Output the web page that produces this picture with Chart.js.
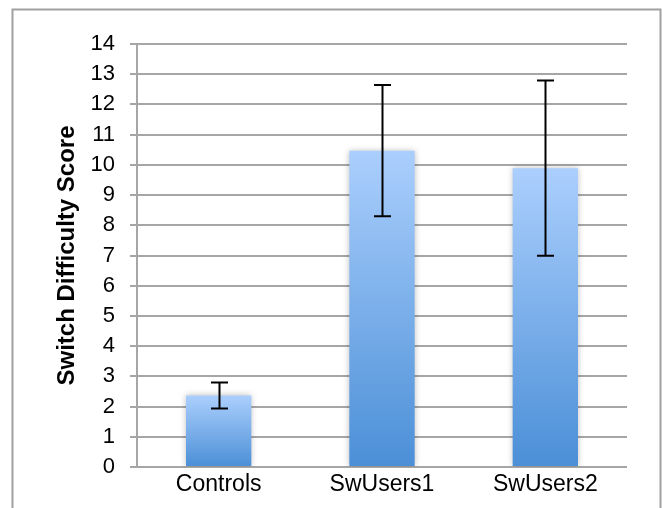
<!DOCTYPE html>
<html>
<head>
<meta charset="utf-8">
<script src="https://cdn.jsdelivr.net/npm/chart.js@4"></script>
<style>
  html, body { margin: 0; padding: 0; background: #fff; }
  #wrap { width: 662px; height: 508px; }
</style>
</head>
<body>
<div id="wrap"><canvas id="myChart" width="662" height="508"></canvas></div>
<script>
// chart values
const groups = ['Controls', 'SwUsers1', 'SwUsers2'];
const scores = [2.37, 10.47, 9.89];
const errors = [0.43, 2.17, 2.9];
const yTicks = [0, 1, 2, 3, 4, 5, 6, 7, 8, 9, 10, 11, 12, 13, 14];

const gridGray = '#a6a6a6';

// gradient per bar: light at its top, darker at the base
function barFill(c) {
  const chart = c.chart;
  const area = chart.chartArea;
  if (!area) return '#7fb0ec';
  const top = chart.scales.y.getPixelForValue(scores[c.dataIndex]);
  const g = chart.ctx.createLinearGradient(0, top, 0, area.bottom);
  g.addColorStop(0, '#abcffd');
  g.addColorStop(1, '#4b8fd7');
  return g;
}

// outer frame, bar shadow, error bars
const extras = {
  id: 'extras',
  beforeDraw(chart) {
    const ctx = chart.ctx;
    ctx.save();
    ctx.strokeStyle = '#a0a0a0';
    ctx.lineWidth = 2;
    ctx.strokeRect(12.5, 9.5, 648, 520);
    ctx.restore();
  },
  beforeDatasetsDraw(chart) {
    const ctx = chart.ctx;
    ctx.save();
    ctx.shadowColor = 'rgba(0,0,0,0.25)';
    ctx.shadowBlur = 6;
  },
  afterDatasetsDraw(chart) {
    const ctx = chart.ctx;
    ctx.restore();
    const xs = chart.scales.x, ys = chart.scales.y;
    ctx.save();
    ctx.strokeStyle = '#000';
    ctx.lineWidth = 2;
    for (let i = 0; i < scores.length; i++) {
      const x = Math.round(xs.getPixelForValue(i)) + 0.5;
      const hi = ys.getPixelForValue(scores[i] + errors[i]);
      const lo = ys.getPixelForValue(scores[i] - errors[i]);
      ctx.beginPath();
      ctx.moveTo(x, hi); ctx.lineTo(x, lo);
      ctx.moveTo(x - 8.5, hi); ctx.lineTo(x + 8.5, hi);
      ctx.moveTo(x - 8.5, lo); ctx.lineTo(x + 8.5, lo);
      ctx.stroke();
    }
    ctx.restore();
  }
};

var ctx = document.getElementById('myChart').getContext('2d');
var chart = new Chart(ctx, {
  type: 'bar',
  data: {
    labels: groups,
    datasets: [{
      label: 'Switch Difficulty Score',
      data: scores,
      backgroundColor: barFill,
      borderWidth: 0,
      categoryPercentage: 1,
      barPercentage: 0.4
    }]
  },
  options: {
    responsive: false,
    animation: false,
    devicePixelRatio: 1,
    layout: { padding: { left: 0, top: 44, right: 35, bottom: 0 } },
    plugins: {
      legend: { display: false },
      tooltip: { enabled: false }
    },
    scales: {
      x: {
        grid: { display: false, drawTicks: false },
        border: { display: false },
        ticks: {
          padding: 4,
          color: '#000',
          font: { family: 'Liberation Sans', size: 23 }
        },
        afterFit: s => { s.height = 41; }
      },
      y: {
        min: 0,
        max: 14,
        afterBuildTicks: s => { s.ticks = yTicks.map(v => ({ value: v })); },
        grid: { color: gridGray, lineWidth: 2, tickLength: 7 },
        border: { display: true, color: gridGray, width: 2 },
        ticks: {
          padding: 15,
          color: '#000',
          font: { family: 'Liberation Sans', size: 22 }
        },
        title: {
          display: true,
          text: 'Switch Difficulty Score',
          color: '#000',
          padding: { top: 53, bottom: 0 },
          font: { family: 'Liberation Sans', size: 24, weight: 'bold' }
        },
        afterFit: s => { s.width = 137; }
      }
    }
  },
  plugins: [extras]
});
</script>
</body>
</html>
